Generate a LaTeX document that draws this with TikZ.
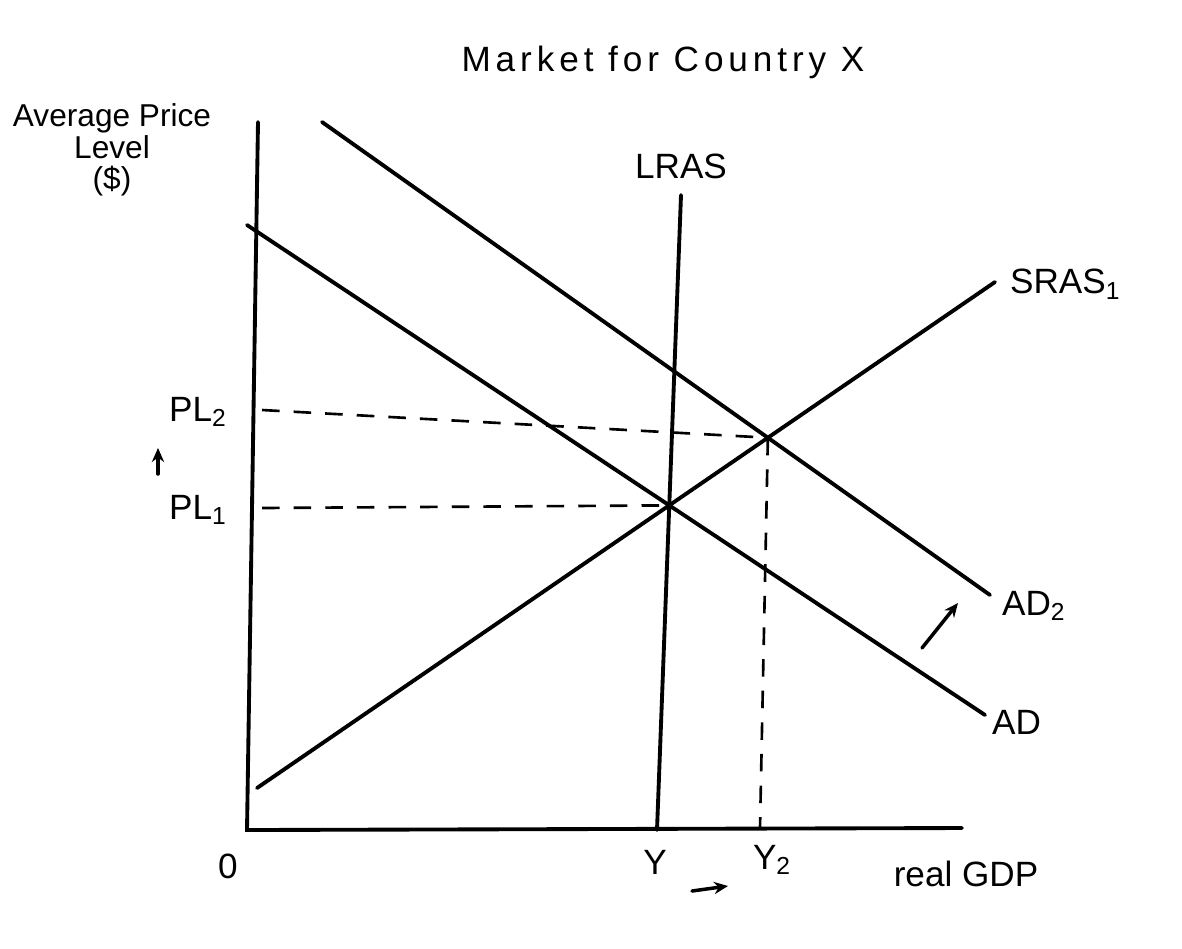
\documentclass[tikz,border=0pt]{standalone}
\usepackage{fontspec}
\setmainfont{Liberation Sans}
\usetikzlibrary{arrows.meta}
\tikzset{
  curve/.style={line width=2.2pt, line cap=round},
  guide/.style={line width=1.5pt, dash pattern=on 10pt off 8pt},
  lbl/.style={font=\fontsize{20}{23}\selectfont, inner sep=1pt},
  shiftarrow/.style={-{Stealth[length=8pt, width=7pt]}, line width=2pt, line cap=round},
}
\begin{document}
\begin{tikzpicture}[x=0.02cm, y=-0.02cm]
\useasboundingbox (0,0) rectangle (1182,948);

% Axes
\coordinate (O) at (247,830);
\coordinate (ytop) at (258,122);
\coordinate (xend) at (962,828);
\draw[curve] (ytop) -- (O) -- (xend);

% Courbes AD, AD2, SRAS et LRAS
\coordinate (ADa) at (247,225);
\coordinate (ADb) at (985,715);
\coordinate (ADIIa) at (322,122);
\coordinate (ADIIb) at (990,595);
\coordinate (SRASa) at (257,788);
\coordinate (SRASb) at (995,282);
\coordinate (LRASa) at (681,195);
\coordinate (LRASb) at (657,830);
\draw[curve] (ADa) -- (ADb);
\draw[curve] (ADIIa) -- (ADIIb);
\draw[curve] (SRASa) -- (SRASb);
\draw[curve] (LRASa) -- (LRASb);

% Equilibres
\coordinate (E1) at (intersection of ADa--ADb and SRASa--SRASb);
\coordinate (E2) at (intersection of ADIIa--ADIIb and SRASa--SRASb);
\coordinate (PLone) at (262,508);
\coordinate (PLtwo) at (262,410);
\coordinate (Ytwo) at (760,828);
\draw[guide] (PLone) -- (E1);
\draw[guide] (PLtwo) -- (E2);
\draw[guide] (E2) -- (Ytwo);

% Fleches de deplacement
\coordinate (upA) at (158,474);
\coordinate (upB) at (158,448);
\coordinate (rtA) at (692,891);
\coordinate (rtB) at (728,886);
\coordinate (shA) at (922,648);
\coordinate (shB) at (958,603);
\draw[shiftarrow] (upA) -- (upB);
\draw[shiftarrow] (rtA) -- (rtB);
\draw[shiftarrow] (shA) -- (shB);

% Textes
\node[lbl, font=\fontsize{20}{23}\selectfont\addfontfeatures{LetterSpace=14}] (title) at (663,62) {Market for Country X};
\node[lbl, font=\fontsize{18}{21}\selectfont, align=center] (ylabel) at (112,150) {Average Price\\[-3pt]Level\\[-3pt](\$)};
\node[lbl] (pl2) at (198,412) {PL\textsubscript{2}};
\node[lbl] (pl1) at (198,510) {PL\textsubscript{1}};
\node[lbl] (zero) at (228,866) {0};
\node[lbl] (y1) at (655,862) {Y};
\node[lbl] (y2) at (772,860) {Y\textsubscript{2}};
\node[lbl] (gdp) at (966,874) {real GDP};
\node[lbl] (lras) at (681,166) {LRAS};
\node[lbl, anchor=west] (sras) at (1008,284) {SRAS\textsubscript{1}};
\node[lbl, anchor=west] (ad2) at (1000,606) {AD\textsubscript{2}};
\node[lbl, anchor=west] (ad) at (990,722) {AD};
\end{tikzpicture}
\end{document}
